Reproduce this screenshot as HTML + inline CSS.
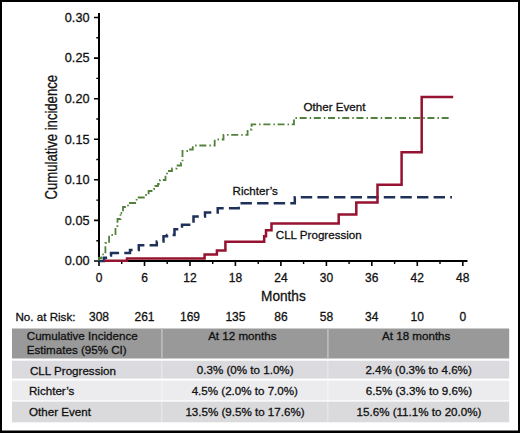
<!DOCTYPE html>
<html><head><meta charset="utf-8">
<style>
html,body{margin:0;padding:0;background:#fff;}
body{width:520px;height:433px;overflow:hidden;position:relative;}
svg{position:absolute;left:0;top:0;}
text{font-family:"Liberation Sans",sans-serif;fill:#111;stroke:#111;stroke-width:0.3px;}
</style></head><body>
<svg width="520" height="433" viewBox="0 0 520 433">
<rect x="0" y="0" width="520" height="433" fill="#fff"/>
<!-- border -->
<rect x="1" y="1" width="518" height="430.5" fill="none" stroke="#000" stroke-width="2"/>
<rect x="0" y="431" width="520" height="2" fill="#000"/>

<!-- axes -->
<g stroke="#000" fill="none">
  <line x1="99" y1="13" x2="99" y2="262" stroke-width="2"/>
  <line x1="98" y1="261" x2="467.5" y2="261" stroke-width="2"/>
  <!-- y major ticks -->
  <path d="M94,17.5H98M94,58.1H98M94,98.7H98M94,139.3H98M94,179.8H98M94,220.4H98M94,261H98" stroke-width="1.6"/>
  <!-- y minor ticks -->
  <path d="M96.3,37.8H98M96.3,78.4H98M96.3,119H98M96.3,159.5H98M96.3,200.1H98M96.3,240.7H98" stroke-width="1.4"/>
  <!-- x major ticks -->
  <path d="M99,262V266M144.5,262V266M190,262V266M235.4,262V266M280.9,262V266M326.4,262V266M371.8,262V266M417.3,262V266M462.8,262V266" stroke-width="1.6"/>
  <!-- x minor ticks -->
  <path d="M121.7,262V264M167.2,262V264M212.7,262V264M258.2,262V264M303.6,262V264M349.1,262V264M394.6,262V264M440,262V264" stroke-width="1.4"/>
</g>

<!-- y tick labels -->
<g font-size="12.7" text-anchor="end">
  <text x="89.5" y="21.8">0.30</text>
  <text x="89.5" y="62.4">0.25</text>
  <text x="89.5" y="103">0.20</text>
  <text x="89.5" y="143.6">0.15</text>
  <text x="89.5" y="184.1">0.10</text>
  <text x="89.5" y="224.7">0.05</text>
  <text x="89.5" y="265.3">0.00</text>
</g>
<!-- x tick labels -->
<g font-size="12" text-anchor="middle">
  <text x="99" y="281.5">0</text>
  <text x="144.5" y="281.5">6</text>
  <text x="190" y="281.5">12</text>
  <text x="235.4" y="281.5">18</text>
  <text x="280.9" y="281.5">24</text>
  <text x="326.4" y="281.5">30</text>
  <text x="371.8" y="281.5">36</text>
  <text x="417.3" y="281.5">42</text>
  <text x="462.8" y="281.5">48</text>
</g>
<!-- axis titles -->
<text x="283.4" y="301.5" font-size="14.6" text-anchor="middle" transform="translate(283.4 0) scale(0.935 1) translate(-283.4 0)">Months</text>
<text transform="translate(57.1 137.2) rotate(-90) scale(0.84 1)" font-size="15.6" text-anchor="middle" x="0" y="0">Cumulative incidence</text>

<!-- curves -->
<path d="M99,261 V258 H101.5 V254.3 H105.4 V243 H109.1 V235 H115.5 V226 H117.5 V219 H120.5 V213" fill="none" stroke="#52823a" stroke-width="1.8" stroke-dasharray="7 3 1.5 2.7" stroke-dashoffset="0"/>
<path d="M120.5,213 H123 V207 H128 V203 H136.6 V197.5 H146 V195 H148.6 V191 H154 V189 H155.4 V186 H158 V184 H160 V180 H165.5 V175.5 H167 V171 H172 V168.5 H176.5 V165.5 H181 V163 H182.5 V151 H189 V149.5 H192.8 V145.5 H214.7 V139.5 H223.5 V134.8 H247.6 V129.5 H251.6 V124.3 H294 V118 H449" fill="none" stroke="#52823a" stroke-width="1.8" stroke-dasharray="7 3 1.5 2.7" stroke-dashoffset="9.85"/>
<path d="M99,261 H104 V257.7 H109.5 V255.5 H111 V253.1 H130 V250 H138.8 V245.2 H156.8 V241.5 H163.5 V236.2 H167 V235 H174.5 V229.3 H182 V224.8 H193.5 V216.6 H205 V212.5 H217.7 V208.3 H238.7 V203.3 H294.8 V197.2 H452" fill="none" stroke="#1e3159" stroke-width="2.5" stroke-dasharray="11.4 5.2"/>
<path transform="translate(0 0.3)" d="M104,260.5 H127 V258.3 H204.6 V254.2 H216.9 V250.3 H225.4 V241.5 H264.2 V236 H266 V229.9 H271.5 V223.3 H338.7 V214.2 H356.3 V202.3 H377.5 V184.5 H401.6 V152 H421.7 V96.6 H453.2" fill="none" stroke="#951330" stroke-width="2.5"/>

<!-- curve labels -->
<g font-size="11.6">
  <text x="303.5" y="110.6">Other Event</text>
  <text x="232.6" y="195.2">Richter’s</text>
  <text x="275.8" y="239.4">CLL Progression</text>
</g>

<!-- number at risk -->
<g font-size="12">
  <text x="15.5" y="321.2" font-size="11.6">No. at Risk:</text>
  <g text-anchor="middle">
  <text x="99" y="321.2">308</text>
  <text x="144.5" y="321.2">261</text>
  <text x="190" y="321.2">169</text>
  <text x="235.4" y="321.2">135</text>
  <text x="280.9" y="321.2">86</text>
  <text x="326.4" y="321.2">58</text>
  <text x="371.8" y="321.2">34</text>
  <text x="417.3" y="321.2">10</text>
  <text x="462.8" y="321.2">0</text>
  </g>
</g>

<!-- table -->
<rect x="12" y="328.5" width="497.2" height="30" fill="#999999"/>
<rect x="12" y="360.7" width="497.2" height="17.9" fill="#dbdbdf"/>
<rect x="12" y="380.6" width="497.2" height="19.7" fill="#ececef"/>
<rect x="12" y="401.6" width="497.2" height="20.7" fill="#dadadc"/>
<g fill="#bababa">
  <rect x="161" y="328.5" width="1.8" height="30"/>
  <rect x="327" y="328.5" width="1.8" height="30"/>
</g>
<g fill="#ffffff" opacity="0.3">
  <rect x="161" y="360.7" width="1.6" height="61.6"/>
  <rect x="327" y="360.7" width="1.6" height="61.6"/>
</g>
<g font-size="11.6">
  <text x="26.8" y="340.4">Cumulative Incidence</text>
  <text x="26.8" y="354.2">Estimates (95% CI)</text>
  <text x="242.3" y="340" text-anchor="middle">At 12 months</text>
  <text x="416.2" y="340" text-anchor="middle">At 18 months</text>
  <text x="30" y="374.8">CLL Progression</text>
  <text x="29" y="394.8">Richter’s</text>
  <text x="29" y="415.8">Other Event</text>
  <g text-anchor="middle">
    <text x="245.2" y="373.8">0.3% (0% to 1.0%)</text>
    <text x="244.8" y="395">4.5% (2.0% to 7.0%)</text>
    <text x="245" y="416.2">13.5% (9.5% to 17.6%)</text>
    <text x="418.6" y="373.8">2.4% (0.3% to 4.6%)</text>
    <text x="419" y="395">6.5% (3.3% to 9.6%)</text>
    <text x="419" y="416.2">15.6% (11.1% to 20.0%)</text>
  </g>
</g>
</svg>
</body></html>
